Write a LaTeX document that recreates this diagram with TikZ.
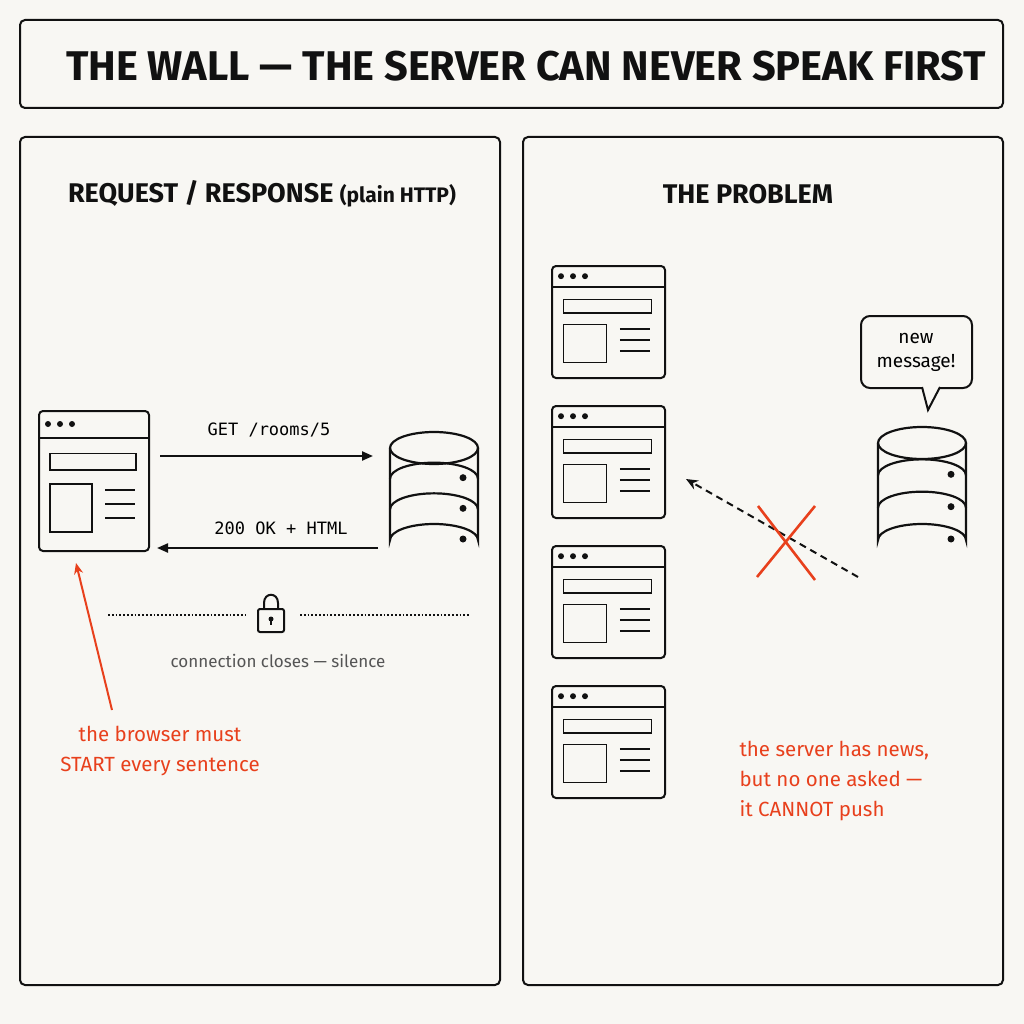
\documentclass[tikz,border=0pt]{standalone}
\usepackage{fontspec}
\setmainfont{Fira Sans}
\setmonofont{DejaVu Sans Mono}
\usetikzlibrary{arrows.meta}
\definecolor{bg}{HTML}{F8F7F3}
\definecolor{ink}{HTML}{111111}
\definecolor{accent}{HTML}{E8401C}
\definecolor{muted}{HTML}{555555}
\newcommand\brw[5]{% name x y w h
  \node[draw=ink,line width=2pt,rounded corners=4pt,minimum width=#4pt,minimum height=#5pt,inner sep=0pt,anchor=north west] (#1) at (#2,#3) {};
  \begin{scope}[shift={(#2,#3)}]
    \draw[ink,line width=2pt] (0,0.2*#5) -- (#4,0.2*#5);
    \foreach \d in {10,22,34} \fill[ink] (\d,0.1*#5) circle (3pt);
    \begin{scope}[x=#4pt,y=-#5pt]
      \draw[ink,line width=1.5pt] (0.11,0.31) rectangle (0.89,0.43);
      \draw[ink,line width=1.5pt] (0.11,0.53) rectangle (0.49,0.87);
      \foreach \yy in {0.57,0.67,0.77} \draw[ink,line width=1.5pt] (0.61,\yy) -- (0.88,\yy);
    \end{scope}
  \end{scope}}
\newcommand\dbase[4]{% name cx ytop ybottom
  \begin{scope}[ink,line width=2.2pt]
    \fill[bg] (#2-44,#3) -- (#2-44,#4) arc(180:360:44 and 16) -- (#2+44,#3) -- cycle;
    \draw (#2,#3) ellipse (44 and 16);
    \draw (#2-44,#3) -- (#2-44,#4) arc(180:360:44 and 16) -- (#2+44,#3);
    \pgfmathsetmacro\bA{#3+(#4-#3)/3}\pgfmathsetmacro\bB{#3+2*(#4-#3)/3}
    \draw (#2-44,\bA) arc(180:360:44 and 16);
    \draw (#2-44,\bB) arc(180:360:44 and 16);
    \fill (#2+29,\bA-1) circle (3.5pt);
    \fill (#2+29,\bB-1) circle (3.5pt);
    \fill (#2+29,#4-1) circle (3.5pt);
  \end{scope}
  \coordinate (#1) at (#2,{(#3+#4)/2});}
\begin{document}
\begin{tikzpicture}[x=1pt,y=-1pt,
  panel/.style={draw=ink,line width=2pt,rounded corners=5pt},
  head/.style={font=\bfseries\fontsize{27}{32}\selectfont,text=ink},
  arr/.style={-{Triangle[length=11pt,width=9pt]},line width=2.2pt,ink},
  redtxt/.style={text=accent,font=\fontsize{20.5}{30}\selectfont}]
\fill[bg] (0,0) rectangle (1024,1024);
\useasboundingbox (0,0) rectangle (1024,1024);
\draw[panel] (20,20) rectangle (1003,108);
\node[font=\bfseries\fontsize{41.5}{46}\selectfont,text=ink] (title) at (526,66) {THE WALL — THE SERVER CAN NEVER SPEAK FIRST};
\draw[panel] (20,137) rectangle (500,985);
\draw[panel] (523,137) rectangle (1003,985);
\node[head] (hl) at (262,194) {REQUEST / RESPONSE {\fontsize{21}{24}\selectfont(plain HTTP)}};
\node[head] (hr) at (748,194) {THE PROBLEM};
% left
\brw{bL}{38}{410}{110}{140}
\dbase{dL}{434}{448}{540}
\node[font=\ttfamily\fontsize{17}{20}\selectfont] (get) at (269,430) {GET /rooms/5};
\node[font=\ttfamily\fontsize{17}{20}\selectfont] (ok) at (281,528) {200 OK + HTML};
\coordinate (g1) at (160,456); \coordinate (g2) at (373,456);
\coordinate (o1) at (378,548); \coordinate (o2) at (157,548);
\draw[arr] (g1) -- (g2);
\draw[arr] (o1) -- (o2);
\draw[ink,line width=1.8pt,dotted] (108,615) -- (245,615);
\draw[ink,line width=1.8pt,dotted] (300,615) -- (470,615);
\draw[ink,line width=2pt] (264,609) -- (264,603) .. controls (264,592) and (278,592) .. (278,603) -- (278,609);
\draw[ink,line width=2pt,rounded corners=2pt,fill=bg] (258,609) rectangle (284,632);
\fill[ink] (271,619) circle (2.5pt);
\draw[ink,line width=1.6pt] (271,619) -- (271,625);
\node[text=muted,font=\fontsize{17}{20}\selectfont] (cc) at (278,661) {connection closes — silence};
\node[redtxt,align=center] (rl) at (160,751) {the browser must\\START every sentence};
\coordinate (r1) at (112,710); \coordinate (r2) at (76,563);
\draw[accent,line width=2pt,-{Stealth[length=11pt,width=9pt]}] (r1) -- (r2);
% right
\brw{b1}{551}{265}{113}{112}
\brw{b2}{551}{405}{113}{112}
\brw{b3}{551}{545}{113}{112}
\brw{b4}{551}{685}{113}{112}
\dbase{dR}{922}{443}{540}
\draw[ink,line width=2pt,rounded corners=9pt] (930,388) -- (972,388) -- (972,316) -- (861,316) -- (861,388) -- (922,388);
\draw[ink,line width=2pt,fill=bg] (922,387) -- (928,410) -- (940,387);
\node[font=\fontsize{19}{24}\selectfont,align=center] (msg) at (916,352) {new\\message!};
\coordinate (d1) at (858,577); \coordinate (d2) at (686,479);
\draw[ink,line width=2pt,dash pattern=on 7pt off 5pt,-{Stealth[length=12pt,width=10pt]}] (d1) -- (d2);
\draw[accent,line width=2.6pt] (758,506) -- (815,580);
\draw[accent,line width=2.6pt] (815,506) -- (757,577);
\node[redtxt,align=left,anchor=west] (rr) at (736,781) {the server has news,\\but no one asked —\\it CANNOT push};
\end{tikzpicture}
\end{document}
